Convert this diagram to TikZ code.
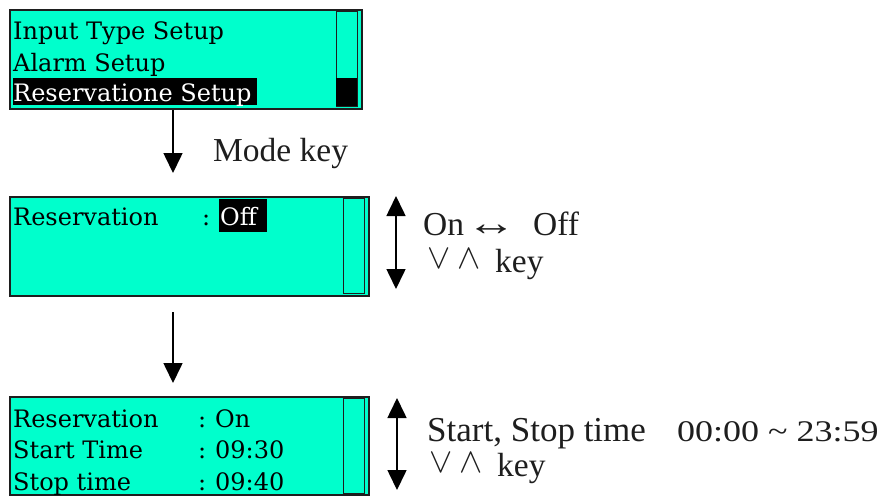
\documentclass[tikz,border=0pt]{standalone}
\usepackage{fontspec}
\usepackage{graphicx}
\setmainfont{Liberation Serif}
\newfontfamily\boxfont{DejaVu Serif}
\newfontfamily\digitfont[FakeStretch=1.2]{Liberation Serif}
\usetikzlibrary{arrows.meta}
\definecolor{lcd}{RGB}{0,255,204}
\definecolor{ink}{RGB}{30,30,30}
\begin{document}
\begin{tikzpicture}[x=1pt,y=-1pt,
  lcdbox/.style={draw=ink,line width=2.2pt,fill=lcd,inner sep=0pt,anchor=north west},
  scroll/.style={draw=ink,line width=1pt},
  boxtxt/.style={anchor=base west,inner sep=0pt,font=\boxfont\fontsize{24}{24}\selectfont},
  inv/.style={boxtxt,text=white},
  note/.style={anchor=base west,inner sep=0pt,text=ink,font=\fontsize{33.5}{34}\selectfont},
  wide/.style={note,font=\fontsize{35}{35}\selectfont},
  digits/.style={note,font=\digitfont\fontsize{30}{30}\selectfont},
  sym/.style={anchor=base west,inner sep=0pt,text=ink,font=\fontsize{24.88}{25}\selectfont},
  flow/.style={-{Triangle[width=19pt,length=20pt]},line width=1.6pt,draw=black},
  updown/.style={{Triangle[width=19pt,length=20pt]}-{Triangle[width=19pt,length=20pt]},line width=1.6pt,draw=black}]
\useasboundingbox (0,0) rectangle (885,496);

% ---- top menu box
\node[lcdbox,minimum width=352pt,minimum height=99pt] (menu) at (9,9) {};
\draw[scroll] (336,11) rectangle (357,106);
\fill[black] (336,78) rectangle (357,106);
\node[boxtxt] (m1) at (13,39) {Input Type Setup};
\node[boxtxt] (m2) at (13,71) {Alarm Setup};
\fill[black] (13,78) rectangle (257,105);
\node[inv] (m3) at (13,101) {Reservatione Setup};

% ---- mode key arrow
\coordinate (a1) at (173,173);
\draw[flow] (a1 |- menu.south) -- (a1);
\node[note] (modekey) at (213,161) {Mode key};

% ---- middle box
\node[lcdbox,minimum width=359pt,minimum height=99pt] (res) at (9,196) {};
\draw[scroll] (343,198) rectangle (364,293);
\node[boxtxt] (r1) at (13,225) {Reservation};
\node[boxtxt] (r1c) at (202,225) {:};
\fill[black] (219,199) rectangle (267,232);
\node[inv] (r1v) at (220,225) {Off};

\coordinate (u1) at (396,196);
\coordinate (d1) at (396,289);
\draw[updown] (u1) -- (d1);
\node[note] (on) at (423,235) {On};
\node[note] (lr) at (466,235) {\scalebox{1.5}[1.1]{↔}};
\node[note] (off) at (533,235) {Off};
\node[sym] (k1a) at (427,268) {\scalebox{1.4}{$\vee$}};
\node[sym] (k1b) at (457,268) {\scalebox{1.4}{$\wedge$}};
\node[note] (k1c) at (495,272) {key};

% ---- second arrow
\coordinate (a2s) at (173,312);
\coordinate (a2e) at (173,383);
\draw[flow] (a2s) -- (a2e);

% ---- bottom box
\node[lcdbox,minimum width=359pt,minimum height=98pt] (time) at (9,396) {};
\draw[scroll] (343,398) rectangle (364,493);
\node[boxtxt] (t1) at (13,427) {Reservation};
\node[boxtxt] (t1c) at (198,427) {:};
\node[boxtxt] (t1v) at (215,427) {On};
\node[boxtxt] (t2) at (13,458) {Start Time};
\node[boxtxt] (t2c) at (198,458) {:};
\node[boxtxt] (t2v) at (215,458) {09:30};
\node[boxtxt] (t3) at (13,490) {Stop time};
\node[boxtxt] (t3c) at (198,490) {:};
\node[boxtxt] (t3v) at (215,490) {09:40};

\coordinate (u2) at (397,398);
\coordinate (d2) at (397,490);
\draw[updown] (u2) -- (d2);
\node[wide] (range) at (427,441) {Start, Stop time};
\node[digits] (rangev) at (677,441) {00:00 \~{} 23:59};
\node[sym] (k2a) at (429,472) {\scalebox{1.4}{$\vee$}};
\node[sym] (k2b) at (459,472) {\scalebox{1.4}{$\wedge$}};
\node[note] (k2c) at (497,476) {key};
\end{tikzpicture}
\end{document}
